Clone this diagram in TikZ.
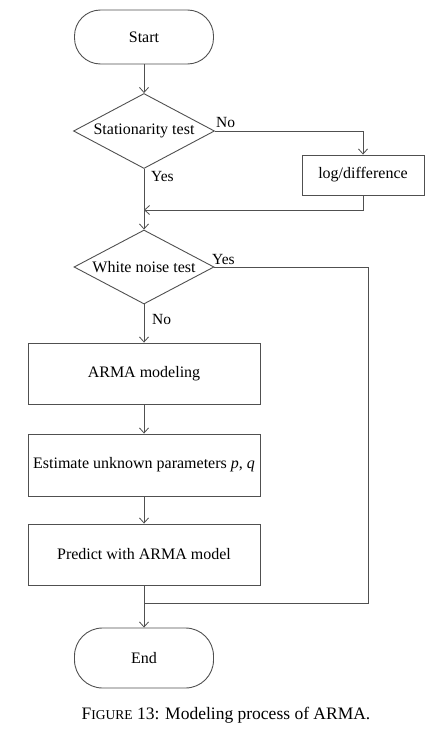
\documentclass[tikz,border=0pt]{standalone}
\usepackage{fontspec}
\setmainfont{Liberation Serif}
\usetikzlibrary{shapes.geometric,arrows.meta}
\definecolor{linec}{HTML}{505050}
\begin{document}
\begin{tikzpicture}[x=1pt,y=1pt,
  every node/.style={font=\fontsize{16}{18}\selectfont},
  term/.style={draw=linec,line width=0.9pt,rounded corners=26pt,minimum width=139pt,minimum height=54pt,inner sep=0pt},
  decis/.style={draw=linec,line width=0.9pt,diamond,aspect=1.88,minimum width=141pt,minimum height=75pt,inner sep=0pt},
  procbox/.style={draw=linec,line width=0.9pt,rectangle,minimum width=232pt,minimum height=61pt,inner sep=0pt},
  arr/.style={draw=linec,line width=0.9pt,-{Straight Barb[length=5pt,width=9pt,line width=0.8pt]}},
  ln/.style={draw=linec,line width=0.9pt},
  lbl/.style={inner sep=0pt,font=\fontsize{15.5}{17}\selectfont}]
\useasboundingbox (0,0) rectangle (445,-752);
\node[term] (start) at (144,-37) {Start};
\node[decis] (st) at (144,-131) {Stationarity test};
\node[draw=linec,line width=0.9pt,minimum width=122pt,minimum height=40pt,inner sep=0pt] (log) at (363,-175) {log/difference};
\node[decis,minimum width=140pt,minimum height=74pt] (wn) at (144,-267) {White noise test};
\node[procbox] (arma) at (144,-373.5) {ARMA modeling};
\node[procbox,minimum height=62pt] (est) at (144,-465) {Estimate unknown parameters \textit{p}, \textit{q}};
\node[procbox] (pred) at (144,-554.5) {Predict with ARMA model};
\node[term,minimum height=60pt,rounded corners=28pt] (end) at (144,-658) {End};
\coordinate (m1) at (144,-210);
\coordinate (c1) at (368,-267);
\coordinate (m2) at (144,-603);
\draw[arr] (start) -- (st);
\draw[arr] (st.east) -| (log.north);
\draw[arr] (log.south) |- (m1);
\draw[arr] (st.south) -- (wn.north);
\draw[ln] (wn.east) -- (c1) |- (m2);
\draw[arr] (wn.south) -- (arma.north);
\draw[arr] (arma.south) -- (est.north);
\draw[arr] (est.south) -- (pred.north);
\draw[arr] (pred.south) -- (end.north);
\node[lbl,anchor=west] (no1) at (216,-123) {No};
\node[lbl,anchor=west] (yes1) at (151,-176) {Yes};
\node[lbl,anchor=west] (yes2) at (212,-259) {Yes};
\node[lbl,anchor=west] (no2) at (152,-319) {No};
\node[inner sep=0pt,font=\fontsize{17.5}{19}\selectfont] (cap) at (226,-715) {F{\fontsize{13.5}{15}\selectfont IGURE} 13: Modeling process of ARMA.};
\end{tikzpicture}
\end{document}
